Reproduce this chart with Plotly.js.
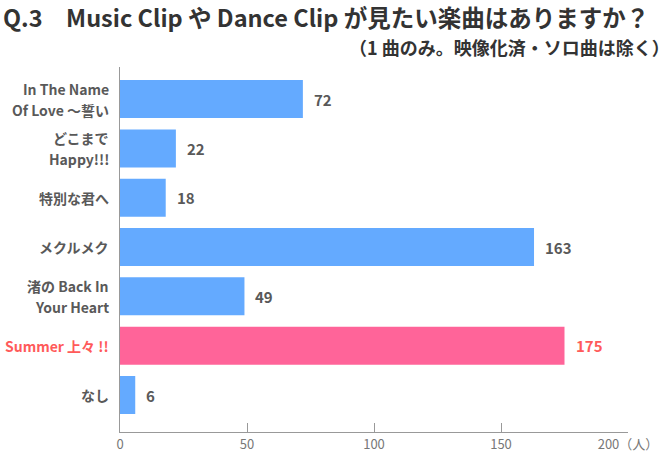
<!DOCTYPE html>
<html>
<head>
<meta charset="utf-8">
<script src="https://cdn.plot.ly/plotly-3.0.1.min.js"></script>
<style>
  body { margin: 0; background: #fff; }
  #myDiv { width: 670px; height: 469px; }
</style>
</head>
<body>
<div id="myDiv"></div>
<script>
  var songs = ['In The Name|Of Love 〜誓い', 'どこまで|Happy!!!', '特別な君へ', 'メクルメク',
               '渚の Back In|Your Heart', 'Summer 上々 !!', 'なし'];
  var votes = [72, 22, 18, 163, 49, 175, 6];
  var highlight = 'Summer 上々 !!';
  var xTicks = [0, 50, 100, 150, 200];
  var xTickText = ['0', '50', '100', '150', '200（人）'];

  var FONT = '"Noto Sans CJK JP", "Noto Sans", sans-serif';
  var BLUE = '#64AAFF';
  var PINK = '#FF6499';
  var RED = '#FF5A5A';
  var GREY = '#595959';

  var idx = songs.map(function (s, i) { return i; });
  var barColors = songs.map(function (s) { return s === highlight ? PINK : BLUE; });

  var bars = {
    type: 'bar',
    orientation: 'h',
    x: votes,
    y: idx,
    marker: { color: barColors },
    hoverinfo: 'skip'
  };

  var valueLabels = votes.map(function (v, i) {
    return {
      x: v, y: i, xref: 'x', yref: 'y',
      text: String(v), showarrow: false,
      xanchor: 'left', xshift: 9,
      font: { family: FONT, size: 15, color: songs[i] === highlight ? RED : GREY, weight: 'bold' }
    };
  });

  // category labels, one annotation per line so the line spacing matches
  var catLabels = [];
  songs.forEach(function (s, i) {
    var lines = s.split('|');
    lines.forEach(function (ln, j) {
      catLabels.push({
        x: 0, y: i, xref: 'paper', yref: 'y',
        text: ln, showarrow: false,
        xanchor: 'right', yanchor: 'middle', xshift: -9,
        yshift: (lines.length - 1) * 10.5 - j * 21,
        font: { family: FONT, size: 14, color: s === highlight ? RED : GREY, weight: 'bold' }
      });
    });
  });

  var layout = {
    width: 670,
    height: 469,
    margin: { l: 120, r: 42, t: 67, b: 37 },
    paper_bgcolor: '#ffffff',
    plot_bgcolor: '#ffffff',
    showlegend: false,
    bargap: 0.23,
    font: { family: FONT, color: GREY },
    xaxis: {
      range: [0, 200],
      tickvals: xTicks,
      ticktext: xTickText,
      ticks: 'inside',
      ticklen: 9,
      tickcolor: '#999999',
      showline: true,
      linecolor: '#999999',
      linewidth: 1,
      showgrid: false,
      zeroline: false,
      tickfont: { family: FONT, size: 13, color: '#777777' },
      fixedrange: true
    },
    yaxis: {
      range: [6.75, -0.65],
      tickvals: idx,
      showticklabels: false,
      ticks: '',
      showline: true,
      linecolor: '#999999',
      linewidth: 1,
      showgrid: false,
      zeroline: false,
      fixedrange: true
    },
    annotations: valueLabels.concat(catLabels, [
      {
        xref: 'paper', yref: 'paper', x: -0.234, y: 1.138,
        xanchor: 'left', yanchor: 'middle', showarrow: false,
        text: 'Q.3　Music Clip や Dance Clip が見たい楽曲はありますか？',
        font: { family: FONT, size: 23.5, color: '#333333', weight: 'bold' }
      },
      {
        xref: 'paper', yref: 'paper', x: 1.086, y: 1.055,
        xanchor: 'right', yanchor: 'middle', showarrow: false,
        text: '（1 曲のみ。映像化済・ソロ曲は除く）',
        font: { family: FONT, size: 18, color: '#333333', weight: 'bold' }
      }
    ])
  };

  Plotly.newPlot('myDiv', [bars], layout, { displayModeBar: false, staticPlot: true });
</script>
</body>
</html>
